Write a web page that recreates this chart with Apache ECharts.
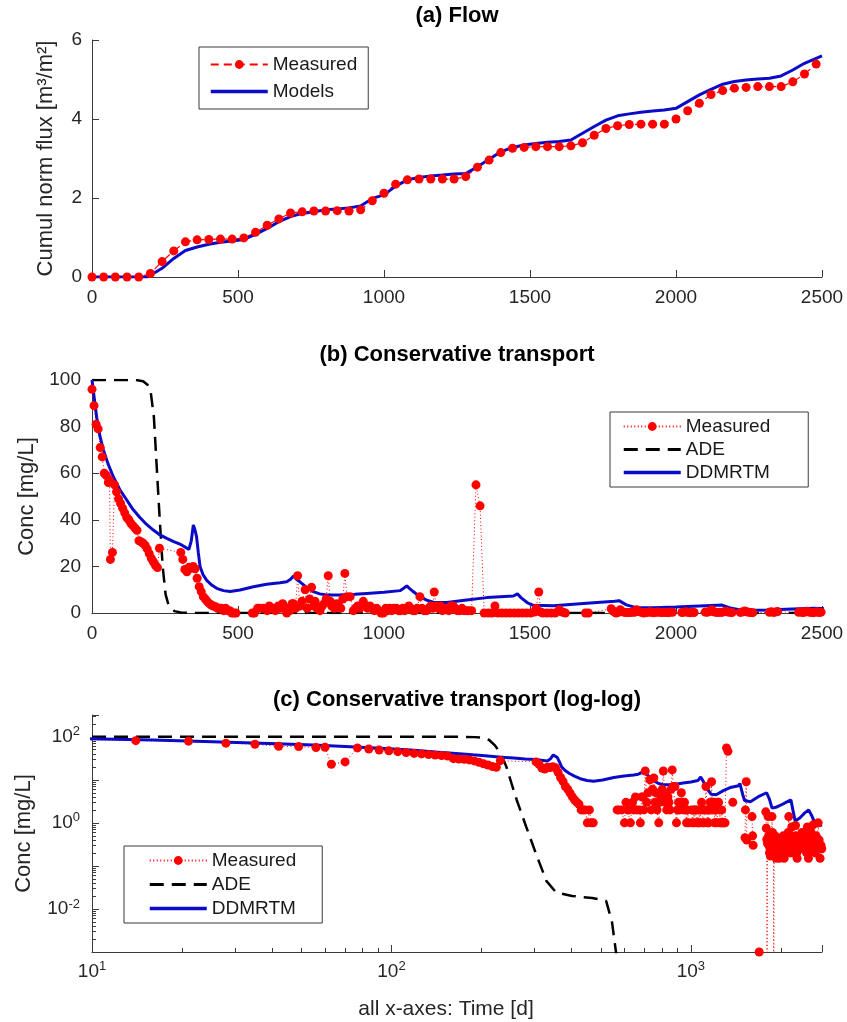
<!DOCTYPE html>
<html>
<head>
<meta charset="utf-8">
<title>Flow and conservative transport</title>
<script src="https://cdn.jsdelivr.net/npm/echarts@6.0.0/dist/echarts.min.js"></script>
<style>
  html, body { margin: 0; padding: 0; background: #fff; }
  #chart { width: 847px; height: 1022px; }
</style>
</head>
<body>
<div id="chart"></div>
<script>
// (a) cumulative normalised flux, measured every 40 d
var flowTime = [0, 40, 80, 120, 160, 200, 240, 280, 320, 360, 400, 440, 480, 520, 560, 600, 640, 680, 720, 760,
    800, 840, 880, 920, 960, 1000, 1040, 1080, 1120, 1160, 1200, 1240, 1280, 1320, 1360, 1400, 1440, 1480, 1520, 1560,
    1600, 1640, 1680, 1720, 1760, 1800, 1840, 1880, 1920, 1960, 2000, 2040, 2080, 2120, 2160, 2200, 2240, 2280, 2320, 2360,
    2400, 2440, 2480];
var flowMeasured = [0, 0, 0, 0, 0, 0.09, 0.39, 0.66, 0.89, 0.94, 0.95, 0.96, 0.96, 0.99, 1.13, 1.31, 1.47, 1.62, 1.65, 1.67,
    1.67, 1.68, 1.67, 1.70, 1.93, 2.12, 2.35, 2.46, 2.48, 2.48, 2.48, 2.48, 2.54, 2.78, 2.96, 3.15, 3.26, 3.28, 3.30, 3.30,
    3.30, 3.32, 3.40, 3.59, 3.76, 3.83, 3.86, 3.87, 3.87, 3.87, 4.00, 4.21, 4.40, 4.62, 4.72, 4.78, 4.80, 4.82, 4.82, 4.82,
    4.94, 5.14, 5.39];
var flowModelTime = [0, 190, 240, 280, 320, 360, 400, 440, 480, 520, 560, 600, 640, 680, 720, 760, 800, 840, 880, 920,
    960, 1000, 1040, 1080, 1120, 1160, 1200, 1240, 1280, 1320, 1360, 1400, 1440, 1480, 1520, 1560, 1600, 1640, 1680, 1720,
    1760, 1800, 1840, 1880, 1920, 1960, 2000, 2040, 2080, 2120, 2160, 2200, 2240, 2280, 2320, 2360, 2400, 2440, 2500];
var flowModel = [0, 0, 0.22, 0.47, 0.67, 0.76, 0.83, 0.88, 0.91, 0.95, 1.08, 1.23, 1.40, 1.53, 1.61, 1.65, 1.70, 1.72, 1.75, 1.80,
    1.99, 2.08, 2.30, 2.46, 2.52, 2.56, 2.58, 2.61, 2.62, 2.79, 2.98, 3.17, 3.28, 3.34, 3.38, 3.41, 3.43, 3.47, 3.64, 3.81,
    3.97, 4.08, 4.13, 4.17, 4.20, 4.23, 4.27, 4.44, 4.61, 4.75, 4.88, 4.95, 4.99, 5.01, 5.03, 5.09, 5.24, 5.41, 5.60];

// (b)/(c) measured concentration [mg/L]
var concTime = [0, 7, 14, 21, 28, 35, 42, 49, 56, 60, 63, 70, 77, 84, 91, 98, 105, 112, 119, 126, 133, 140, 147, 154, 161,
    168, 175, 182, 189, 196, 203, 210, 217, 224, 231,
    304, 311, 318, 325, 332, 339, 346, 353, 360, 367, 374, 381, 388, 395, 402, 409, 416, 423, 430, 437, 444, 451, 458, 465, 472,
    479, 486, 493, 549, 556,
    567, 574, 587, 600, 607, 614, 621, 628, 638, 645, 653, 660, 667, 674, 678, 685, 690, 697, 704, 712,
    719, 730, 737, 745, 752, 759, 764, 771, 781, 788, 795, 802, 809, 816, 821, 830, 838, 845, 852, 859,
    866, 873, 884, 895, 902, 910, 917, 929, 936, 944, 952, 959, 967, 975, 982, 990, 998,
    1006, 1013, 1020, 1027, 1034, 1043, 1050, 1057, 1064, 1071, 1078, 1085, 1092, 1099, 1106, 1113, 1123, 1130, 1137, 1146,
    1153, 1160, 1167, 1172, 1179, 1186, 1193, 1200, 1207, 1215, 1222, 1229, 1237, 1244, 1251, 1260, 1267, 1274, 1283, 1290,
    1300, 1315, 1329, 1343, 1357, 1370, 1380, 1390, 1404, 1418, 1432, 1446, 1460, 1474, 1488, 1502, 1516, 1521, 1530, 1537,
    1544, 1558, 1572, 1586, 1600, 1607, 1614, 1621,
    1690, 1700, 1778, 1785, 1792, 1795, 1802, 1809, 1816, 1823, 1830, 1837, 1844, 1851, 1858, 1865, 1872, 1879, 1886, 1890,
    1897, 1904, 1911, 1918, 1925, 1932, 1939, 1946, 1953, 1960, 1967, 1974, 1981, 1988, 2020, 2027, 2034, 2041, 2048, 2055,
    2062, 2100, 2107, 2114, 2122, 2129, 2136, 2143, 2150, 2157, 2164, 2171, 2178, 2185, 2192, 2220, 2227, 2235, 2242, 2249,
    2256, 2263, 2320, 2327, 2334, 2341, 2348, 2420, 2427, 2434, 2441, 2448, 2455, 2462, 2469, 2476, 2483, 2490, 2497, 2520,
    2540, 2560, 2580, 2600, 2620, 2640, 2660, 2680, 2700, 2720, 2735];
var concMeasured = [96, 89, 81, 79, 71, 67, 60, 59, 56, 57, 23, 26, 55, 52, 49, 47, 45, 43, 41, 40, 38.5, 37.5, 36.5, 35.5, 31,
    30.5, 30, 29, 27.5, 25.5, 23.5, 22, 20.5, 19.5, 27.8,
    26, 23, 18.7, 17.7, 19.6, 19.2, 20, 19, 14.9, 11.3, 9.2, 7, 6, 4.9, 4, 3.4, 3, 2.7, 2, 2, 2, 1, 2, 1, 1,
    0, 0, 0, 0, 0,
    2, 2, 2, 1, 3, 2, 2, 1, 3, 2, 4, 2, 0, 2, 1, 4, 4, 2, 16, 3,
    5, 10, 2, 6, 11, 3, 5, 2, 1, 3, 4, 6, 16, 5, 3, 2, 4, 3, 2, 6,
    17, 7, 7, 1, 2, 3, 2, 5, 3, 2, 3, 2, 1, 2, 1, 0, 0,
    2, 1, 2, 1, 2, 2, 1, 1, 2, 1, 2, 3, 2, 1, 1, 2, 7, 2, 1, 1,
    2, 3, 2, 9, 3, 2, 3, 1, 2, 2, 1, 3, 3, 2, 1, 1, 2, 1, 1, 1,
    1, 55, 46, 0, 0, 0, 3, 0, 0, 0, 0, 0, 0, 0, 0, 0, 0.45, 2, 9, 0.4,
    0, 0, 0, 0, 1.4, 0.5, 0.3, 0,
    0.001, 0, 1.8, 0.75, 0.41, 0.00001, 0.33, 1.4, 0.5, 0.3, 0.2, 0.25, 0.17, 0.4, 0.3, 1.4, 0.6, 0.35, 0.25, 0.00001,
    0.2, 0.3, 0.5, 0.2, 0.15, 0.3, 0.45, 0.25, 0.18, 0.3, 0.2, 0.15, 0.4, 0.3, 0.2, 0.35, 0.5, 0.25, 0.15, 0.3,
    0.2, 0.4, 0.3, 0.6, 1.4, 0.5, 0.3, 0.2, 0.35, 0.25, 0.5, 0.8, 0.4, 0.3, 0.2, 0.25, 0.4, 0.87, 0.5, 0.3,
    0.2, 0.15, 0.3, 0.5, 0.25, 0.4, 0.6, 0.3, 0.5, 0.2, 0.35, 0.8, 0.4, 0.25, 0.15, 0.3, 0.5, 0.2, 0.35, 0.6,
    0.3, 0.9, 0.4, 0.2, 0.5, 0.3, 1.0, 0.4, 0.15, 0.3, 0.25];

// ADE model
var adeTime = [0, 10, 100, 150, 175, 190, 201, 212, 222, 232, 242, 252, 262, 282, 304, 329, 355, 401, 468, 521, 545, 562, 575, 600, 2740];
var adeConc = [100, 100, 100, 100, 99.5, 98, 95, 84, 62, 40, 20, 8, 3.4, 0.8, 0.19, 0.045, 0.024, 0.020, 0.018, 0.0154, 0.005, 0.001, 0.0001, 0, 0];

// DDMRTM model
var ddTime = [0, 8, 16, 27, 39, 55, 73, 95, 119, 140, 164, 187, 210, 233, 256, 280, 301, 332, 340, 347, 352, 358, 364, 370, 380,
    393, 410, 427, 450, 473, 507, 553, 598, 644, 667, 680, 690, 700, 712, 735, 758, 780, 804, 849, 900, 941, 1000, 1055, 1066, 1078,
    1088, 1100, 1123, 1146, 1169, 1215, 1283, 1352, 1443, 1457, 1470, 1490, 1511, 1580, 1694, 1790, 1805, 1830, 1866, 1922,
    2000, 2100, 2158, 2190, 2230, 2310, 2400, 2473, 2500, 2540, 2604, 2705, 2740];
var ddConc = [100, 92, 84, 76, 70, 64, 58.5, 53, 48.5, 44.5, 41, 38, 35.6, 33.5, 32, 30.6, 29.6, 27.3, 31, 37.8, 36, 32.8, 26, 20, 16.5,
    14, 12, 10.6, 9.6, 9.2, 9.9, 11.3, 12.3, 13, 13.4, 14.5, 15.9, 14.5, 13.4, 11, 9.2, 8.2, 7.7, 7.7, 8, 8.4, 8.9, 9.6, 10.5, 11.6,
    10.5, 9.2, 7, 5.5, 4.6, 4.5, 5.6, 6.6, 7.3, 8.2, 6.5, 4.5, 3.3, 3.1, 4.2, 5.0, 5.3, 3.5, 2.2, 2.3,
    2.6, 3.1, 3.4, 2.0, 1.1, 1.3, 1.7, 2.0, 1.9, 1.4, 0.92, 0.87, 0.9];

var font = '"Liberation Sans", Arial, Helvetica, sans-serif';
var lineColor = '#3a3a3a';
var textColor = '#262626';
var red = '#ff0000';
var blue = '#0a0ac8';

function pairs(xs, ys) {
    return xs.map(function (x, i) { return [x, ys[i]]; });
}
// log axes: drop t = 0 and break the line where the value is 0
function logPairs(xs, ys) {
    var out = [];
    xs.forEach(function (x, i) {
        if (x <= 0) return;
        out.push([x, ys[i] > 0 ? ys[i] : '-']);
    });
    return out;
}
function legendName(name) {
    return name.split('|')[0];
}

function valueAxis(gridIndex, min, max, interval, margin) {
    return {
        type: 'value', gridIndex: gridIndex, min: min, max: max, interval: interval,
        axisLine: { show: true, onZero: false, lineStyle: { color: lineColor, width: 1 } },
        axisTick: { show: true, inside: true, length: 7, lineStyle: { color: lineColor } },
        axisLabel: {
            color: textColor, fontSize: 19, fontFamily: font, margin: margin,
            formatter: function (v) { return String(v); }
        },
        splitLine: { show: false }
    };
}
function logAxis(gridIndex, min, max, everyOther, margin) {
    return {
        type: 'log', logBase: 10, gridIndex: gridIndex, min: min, max: max,
        axisLine: { show: true, onZero: false, lineStyle: { color: lineColor, width: 1 } },
        axisTick: { show: true, inside: true, length: 7, lineStyle: { color: lineColor } },
        minorTick: { show: true, splitNumber: 9, length: 4, lineStyle: { color: lineColor } },
        axisLabel: {
            margin: margin,
            formatter: function (v) {
                var p = Math.log10(v), e = Math.round(p);
                if (Math.abs(p - e) > 1e-6) return '';
                if (everyOther && e % 2 !== 0) return '';
                return '{b|10}{s|' + e + '}';
            },
            rich: {
                b: { fontSize: 19, fontFamily: font, color: textColor },
                s: { fontSize: 13, fontFamily: font, color: textColor, padding: [0, 0, 10, 0] }
            }
        },
        splitLine: { show: false }
    };
}

var xa = valueAxis(0, 0, 2500, 500, 11);
var xb = valueAxis(1, 0, 2500, 500, 11);
var xc = logAxis(2, 10, 2740, false, 8);
xc.name = 'all x-axes: Time [d]';
xc.nameLocation = 'middle';
xc.nameGap = 47;
xc.nameTextStyle = { fontSize: 21, fontFamily: font, color: textColor, padding: [0, 22, 0, 0] };

var ya = valueAxis(0, 0, 6, 2, 10);
ya.name = 'Cumul norm flux [m\u00b3/m\u00b2]';
var yb = valueAxis(1, 0, 100, 20, 11);
yb.name = 'Conc [mg/L]';
var yc = logAxis(2, 0.001, 320, true, 12);
yc.name = 'Conc [mg/L]';
[[ya, 35], [yb, 52], [yc, 57]].forEach(function (p) {
    p[0].nameLocation = 'middle';
    p[0].nameGap = p[1];
    p[0].nameTextStyle = { fontSize: 22, fontFamily: font, color: textColor };
});

// model entries: thick line only, no marker in the legend sample
function lineOnly(name, width) {
    return { name: name, itemStyle: { opacity: 0 }, lineStyle: { width: width } };
}
function legendBox(left, top, padding, gap, names) {
    return {
        orient: 'vertical', left: left, top: top, padding: padding, itemGap: gap,
        itemWidth: 57, itemHeight: 11,
        borderColor: lineColor, borderWidth: 1, backgroundColor: '#fff',
        textStyle: { fontSize: 19, fontFamily: font, color: '#1a1a1a' },
        selectedMode: false, formatter: legendName, data: names
    };
}

var measuredDotted = { color: red, width: 1, type: [1, 2.5] };
var adeStyle = { color: '#000', width: 2.5, type: [14, 8] };
var ddStyle = { color: blue, width: 3 };

var option = {
    animation: false,
    backgroundColor: '#fff',
    grid: [
        { left: 92, top: 40, width: 730, height: 237 },
        { left: 92, top: 380, width: 730, height: 233 },
        { left: 92, top: 715, width: 730, height: 237 }
    ],
    xAxis: [xa, xb, xc],
    yAxis: [ya, yb, yc],
    legend: [
        legendBox(199, 47, [8, 11, 8, 10], 8, ['Measured|a', lineOnly('Models', 3.5)]),
        legendBox(610, 412, [5, 38, 5, 12], 4, ['Measured|b', lineOnly('ADE', 3), lineOnly('DDMRTM', 3.5)]),
        legendBox(124, 846, [5, 26, 5, 24], 5, ['Measured|b', lineOnly('ADE', 3), lineOnly('DDMRTM', 3.5)])
    ],
    graphic: [
        { type: 'text', x: 457, y: 16, style: { text: '(a) Flow', font: 'bold 22px ' + font, fill: '#000', textAlign: 'center', textVerticalAlign: 'middle' } },
        { type: 'text', x: 457, y: 355, style: { text: '(b) Conservative transport', font: 'bold 22px ' + font, fill: '#000', textAlign: 'center', textVerticalAlign: 'middle' } },
        { type: 'text', x: 457, y: 700, style: { text: '(c) Conservative transport (log-log)', font: 'bold 22px ' + font, fill: '#000', textAlign: 'center', textVerticalAlign: 'middle' } }
    ],
    series: [
        {
            name: 'Measured|a', type: 'line', xAxisIndex: 0, yAxisIndex: 0,
            data: pairs(flowTime, flowMeasured),
            symbol: 'circle', symbolSize: 9, itemStyle: { color: red },
            lineStyle: { color: red, width: 1.2, type: [8, 5] }, emphasis: { disabled: true }
        },
        {
            name: 'Models', type: 'line', xAxisIndex: 0, yAxisIndex: 0,
            data: pairs(flowModelTime, flowModel), symbol: 'none',
            lineStyle: ddStyle, itemStyle: { color: blue }, emphasis: { disabled: true }
        },
        {
            name: 'Measured|b', type: 'line', xAxisIndex: 1, yAxisIndex: 1,
            data: pairs(concTime, concMeasured),
            symbol: 'circle', symbolSize: 9, itemStyle: { color: red },
            lineStyle: measuredDotted, emphasis: { disabled: true }
        },
        {
            name: 'ADE', type: 'line', xAxisIndex: 1, yAxisIndex: 1,
            data: pairs(adeTime, adeConc), symbol: 'none',
            lineStyle: adeStyle, itemStyle: { color: '#000' }, emphasis: { disabled: true }
        },
        {
            name: 'DDMRTM', type: 'line', xAxisIndex: 1, yAxisIndex: 1,
            data: pairs(ddTime, ddConc), symbol: 'none',
            lineStyle: ddStyle, itemStyle: { color: blue }, emphasis: { disabled: true }
        },
        {
            name: 'Measured|b', type: 'line', xAxisIndex: 2, yAxisIndex: 2,
            data: logPairs(concTime, concMeasured),
            symbol: 'circle', symbolSize: 9, itemStyle: { color: red },
            lineStyle: measuredDotted, emphasis: { disabled: true }
        },
        {
            name: 'ADE', type: 'line', xAxisIndex: 2, yAxisIndex: 2,
            data: logPairs(adeTime, adeConc), symbol: 'none',
            lineStyle: adeStyle, itemStyle: { color: '#000' }, emphasis: { disabled: true }
        },
        {
            name: 'DDMRTM', type: 'line', xAxisIndex: 2, yAxisIndex: 2,
            data: logPairs(ddTime, ddConc), symbol: 'none',
            lineStyle: ddStyle, itemStyle: { color: blue }, emphasis: { disabled: true }
        }
    ]
};

var myChart = echarts.init(document.getElementById('chart'));
myChart.setOption(option, true);
</script>
</body>
</html>
